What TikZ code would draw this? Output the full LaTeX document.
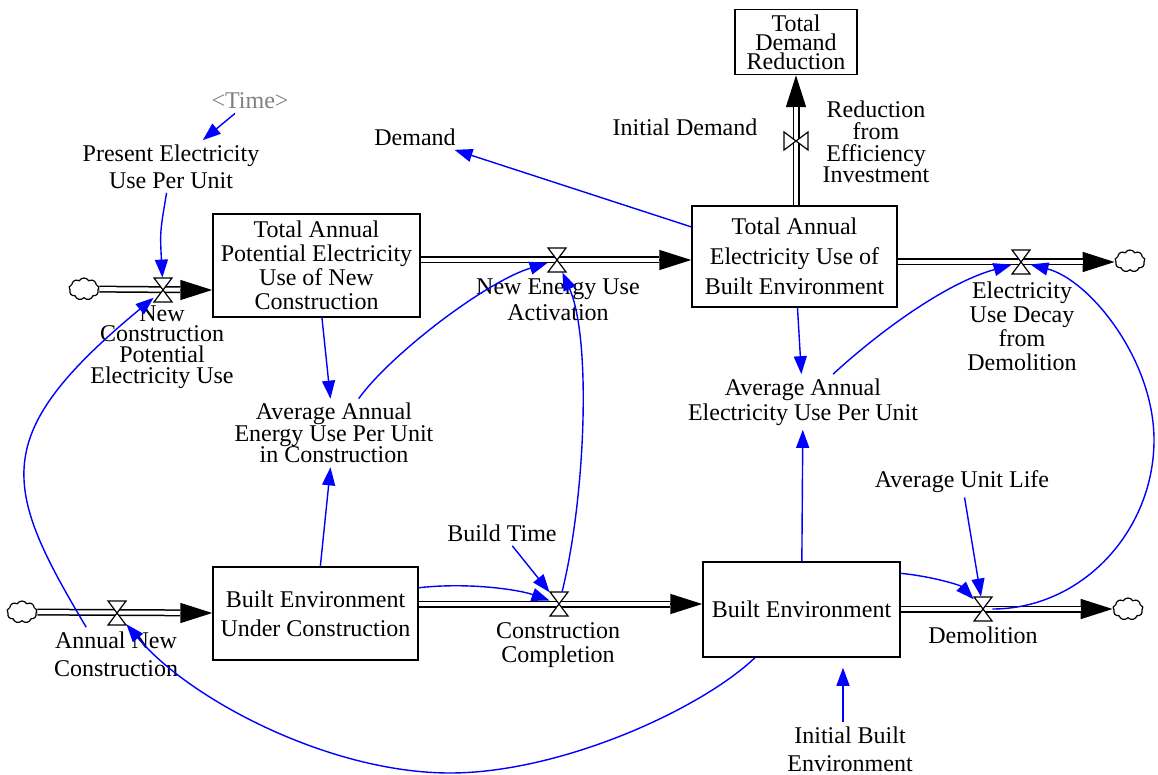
\documentclass[tikz,border=0pt]{standalone}
\usepackage{fontspec}
\setmainfont{Liberation Serif}
\usetikzlibrary{arrows.meta,shapes.symbols,calc}

\tikzset{
  lsk/.style={font=\fontsize{12}{#1}\selectfont},
  stock/.style={draw, line width=0.75pt, fill=white, inner sep=0pt, align=center, lsk=13pt},
  aux/.style={inner sep=2pt, align=center, lsk=13pt},
  valve/.style={rectangle, inner sep=0pt, minimum width=9pt, minimum height=12pt},
  valveV/.style={rectangle, inner sep=0pt, minimum width=12pt, minimum height=9pt},
  cloudnode/.style={cloud, cloud puffs=9, cloud puff arc=120, aspect=1.4, draw, line width=0.6pt,
    fill=white, inner sep=0pt, minimum width=15pt, minimum height=11pt},
  pipe/.style={draw=black, line width=0.75pt, double=white, double distance=2pt},
  pipetip/.style={draw=black, line width=0.75pt, -{Triangle[length=16pt,width=10pt]}},
  link/.style={draw=blue, line width=0.7pt, -{Triangle[length=9pt,width=6.5pt]}},
  pics/hg/.style={code={\draw[line width=0.6pt, fill=white] (-9,-12) -- (9,-12) -- (-9,12) -- (9,12) -- cycle;}},
  pics/hgv/.style={code={\draw[line width=0.6pt, fill=white] (-12,-9) -- (-12,9) -- (12,-9) -- (12,9) -- cycle;}}
}

\begin{document}
\begin{tikzpicture}[x=0.5pt, y=-0.5pt]
\useasboundingbox (0,0) rectangle (1158,775);

% stocks
\node[stock, minimum width=103.5pt, minimum height=51.5pt, lsk=12pt] (tapeu) at (316.5,265.5)
  {Total Annual\\Potential Electricity\\Use of New\\Construction};
\node[stock, minimum width=102.5pt, minimum height=50.5pt, lsk=15pt] (tabe) at (794.5,256.5)
  {Total Annual\\Electricity Use of\\Built Environment};
\node[stock, minimum width=61pt, minimum height=32.5pt, lsk=9.6pt] (tdr) at (796,42)
  {Total\\Demand\\Reduction};
\node[stock, minimum width=102.5pt, minimum height=46.5pt, lsk=14.5pt] (beuc) at (315.5,613.5)
  {Built Environment\\Under Construction};
\node[stock, minimum width=98.5pt, minimum height=47.5pt] (be) at (801.5,609.5)
  {Built Environment};

% valves
\node[valve] (vncpeu) at (163,290) {};
\node[valve] (vneua) at (557,260) {};
\node[valve] (veudd) at (1021,262) {};
\node[valveV] (vrfei) at (796,141) {};
\node[valve] (vanc) at (117,613) {};
\node[valve] (vcc) at (559,604) {};
\node[valve] (vdem) at (983,609) {};

% sources and sinks
\node[cloudnode] (cl1) at (84,289) {};
\node[cloudnode] (cl2) at (22,612) {};
\node[cloudnode] (cl3) at (1130,261) {};
\node[cloudnode] (cl4) at (1128,609) {};

% flow pipes
\draw[pipetip] (vncpeu) -- (vncpeu -| tapeu.west);
\draw[pipe, shorten >=16pt] (cl1) -- (vncpeu -| tapeu.west);
\draw[pipetip] (vneua) -- (vneua -| tabe.west);
\draw[pipe, shorten >=16pt] (vneua -| tapeu.east) -- (vneua -| tabe.west);
\draw[pipetip] (veudd) -- (veudd -| cl3.west);
\draw[pipe, shorten >=16pt] (veudd -| tabe.east) -- (veudd -| cl3.west);
\draw[pipetip] (vrfei) -- (vrfei |- tdr.south);
\draw[pipe, shorten >=16pt] (vrfei |- tabe.north) -- (vrfei |- tdr.south);
\draw[pipetip] (vanc) -- (vanc -| beuc.west);
\draw[pipe, shorten >=16pt] (cl2) -- (vanc -| beuc.west);
\draw[pipetip] (vcc) -- (vcc -| be.west);
\draw[pipe, shorten >=16pt] (vcc -| beuc.east) -- (vcc -| be.west);
\draw[pipetip] (vdem) -- (vdem -| cl4.west);
\draw[pipe, shorten >=16pt] (vdem -| be.east) -- (vdem -| cl4.west);

\pic at (vncpeu) {hg};
\pic at (vneua) {hg};
\pic at (veudd) {hg};
\pic at (vrfei) {hgv};
\pic at (vanc) {hg};
\pic at (vcc) {hg};
\pic at (vdem) {hg};

% flow labels
\node[aux, lsk=10.3pt] (lncpeu) at (162,347) {New\\Construction\\Potential\\Electricity Use};
\node[aux, lsk=13pt] (lneua) at (558,300) {New Energy Use\\Activation};
\node[aux, lsk=12pt] (leudd) at (1022,326) {Electricity\\Use Decay\\from\\Demolition};
\node[aux, lsk=10.8pt] (lrfei) at (876,142) {Reduction\\from\\Efficiency\\Investment};
\node[aux, lsk=14pt] (lanc) at (116,654) {Annual New\\Construction};
\node[aux, lsk=12pt] (lcc) at (558,645) {Construction\\Completion};
\node[aux] (ldem) at (983,635) {Demolition};

% auxiliaries
\node[aux, text=gray] (time) at (250,101) {<Time>};
\node[aux, lsk=13.5pt] (peupu) at (171,166.5) {Present Electricity\\Use Per Unit};
\node[aux] (demand) at (415,137) {Demand};
\node[aux] (idem) at (685,127) {Initial Demand};
\node[aux, lsk=10.75pt] (aaeupuc) at (334,433) {Average Annual\\Energy Use Per Unit\\in Construction};
\node[aux, lsk=12.5pt] (aaeupu) at (803,402) {Average Annual\\Electricity Use Per Unit};
\node[aux] (bt) at (502,533) {Build Time};
\node[aux] (aul) at (962,482) {Average Unit Life};
\node[aux, lsk=14pt] (ibe) at (850,749) {Initial Built\\Environment};

% causal links
\draw[link] (time) -- (peupu);
\draw[link] (peupu) .. controls (160,232) .. (vncpeu);
\draw[link] (lanc.138) .. controls (2,486) and (-12,435) .. (vncpeu);
\draw[link] (tapeu) -- (aaeupuc);
\draw[link] (beuc) -- (aaeupuc);
\draw[link] (aaeupuc) .. controls (390,355) and (485,282) .. (vneua);
\draw[link] (vcc) .. controls (585,500) and (592,340) .. (vneua);
\draw[link] (beuc.14) .. controls (470,582) and (520,590) .. (vcc);
\draw[link] (bt) -- (vcc);
\draw[link] (tabe.164) -- (demand);
\draw[link] (tabe) -- (aaeupu);
\draw[link] (be) -- (aaeupu);
\draw[link] (aaeupu) .. controls (870,340) and (940,285) .. (veudd);
\draw[link] (vdem) .. controls (1082,609) and (1154,531) .. (1154,440)
  .. controls (1154,360) and (1090,280) .. (veudd);
\draw[link] (be.20) .. controls (930,576) and (960,585) .. (vdem);
\draw[link] (aul) -- (vdem);
\draw[link, shorten >=5pt] ([xshift=-3.5pt]ibe.north) -- ([xshift=-3.5pt]ibe.north |- be.south);
\draw[link] (be.226) .. controls (700,710) and (560,773) .. (450,773)
  .. controls (330,773) and (190,700) .. (vanc);
\end{tikzpicture}
\end{document}
